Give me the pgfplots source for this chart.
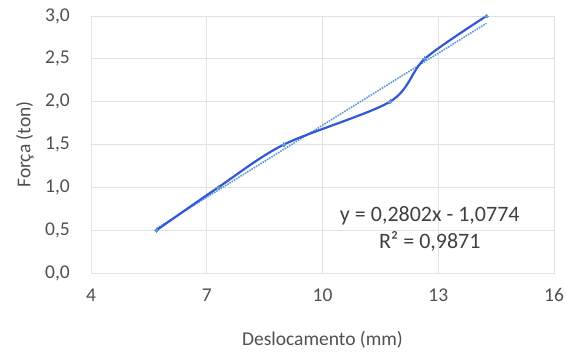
\documentclass[border=0pt]{standalone}
\usepackage{pgfplots}
\pgfplotsset{compat=1.18}
\usepackage{fontspec}
\setmainfont{Carlito}
\definecolor{linec}{HTML}{3357D6}
\definecolor{markc}{HTML}{5B9BD5}
\definecolor{gridc}{HTML}{E2E2E2}
\definecolor{txt}{HTML}{505050}
\definecolor{eqc}{HTML}{404040}
\begin{document}
\begin{tikzpicture}
\path[use as bounding box] (-91pt,-81pt) rectangle (475pt,273pt);
\begin{axis}[at={(0,0)}, anchor=south west, scale only axis,
  width=463pt, height=257pt,
  xmin=4, xmax=16, ymin=0, ymax=3,
  xtick={4,7,10,13,16}, ytick={0,0.5,1,1.5,2,2.5,3},
  grid=major, major grid style={draw=gridc, line width=0.8pt},
  axis line style={draw=gridc, line width=0.8pt},
  tick style={draw=none},
  /pgf/number format/assume math mode=true,
  ticklabel style={font=\fontsize{19.5}{23}\selectfont, text=txt, inner sep=0pt},
  xticklabel style={anchor=center, yshift=-22pt},
  yticklabel style={anchor=east, xshift=-21pt},
  yticklabel={\pgfmathprintnumber[use comma, fixed, fixed zerofill, precision=1]{\tick}},
  clip=false,
]
\addplot[markc, densely dotted, line width=1.6pt] coordinates {(5.7,0.5197) (14.25,2.9155)};
\addplot[linec, line width=2.2pt, smooth, mark=*, mark size=1.9pt,
  mark options={fill=markc, draw=markc, line width=0pt}] coordinates {
  (5.7,0.5) (7.3,1.0) (9.0,1.5) (11.75,2.0) (12.65,2.5) (14.25,3.0)};
\node[font=\fontsize{22}{27}\selectfont, text=eqc, align=center] at (axis cs:12.78,0.51)
  {y = 0,2802x - 1,0774\\R² = 0,9871};
\node[font=\fontsize{19.5}{23}\selectfont, text=txt] at ([yshift=-67pt]rel axis cs:0.5,0) {Deslocamento (mm)};
\node[font=\fontsize{19.5}{23}\selectfont, text=txt, rotate=90] at ([xshift=-66pt]rel axis cs:0,0.5) {Força (ton)};
\end{axis}
\end{tikzpicture}
\end{document}
